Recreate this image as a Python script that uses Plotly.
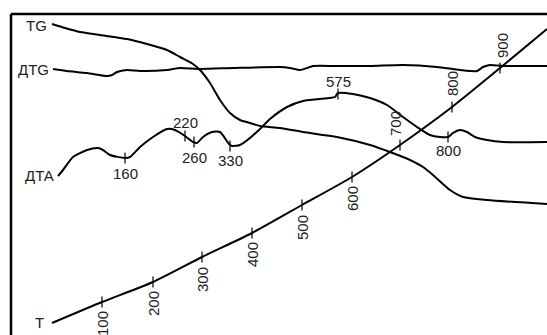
import plotly.graph_objects as go

# ---- data (pixel-like units: x to the right, y downward) ----
TG_x = [52, 65, 80, 100, 127, 147, 167, 180, 193, 200, 210, 220, 230, 240, 250, 260, 280, 303, 337, 370, 390, 410, 423, 433, 450, 463, 487, 547]
TG_y = [24, 28, 32, 35, 39, 44, 50, 57, 64, 70, 83, 100, 113, 120, 123, 126, 128, 132, 137, 145, 152, 160, 167, 175, 190, 197, 200, 204]

DTG_x = [53, 67, 87, 107, 112, 117, 127, 140, 167, 180, 200, 233, 280, 290, 300, 307, 313, 337, 370, 403, 437, 460, 477, 483, 490, 503, 547]
DTG_y = [69, 71, 73, 76, 75, 72, 70, 71, 70, 68, 69, 68, 67, 68, 70, 68, 66, 66, 66, 65, 67, 70, 71, 67, 65, 66, 66]

DTA_x = [58, 63, 73, 87, 98, 103, 110, 125, 130, 140, 153, 167, 175, 185, 193, 197, 203, 212, 220, 229, 232, 240, 250, 260, 270, 287, 303, 330, 335, 338, 353, 370, 387, 403, 417, 430, 440, 448, 453, 460, 467, 475, 487, 503, 547]
DTA_y = [176, 170, 157, 150, 148, 150, 155, 158, 157, 147, 137, 129, 130, 136, 142, 143, 137, 132, 132, 144, 146, 145, 138, 129, 119, 107, 101, 98, 97, 93, 94, 98, 105, 117, 127, 135, 137, 137, 133, 130, 132, 137, 140, 142, 142]

DTA_mark_x = [125, 185, 194, 230, 338, 448]
DTA_mark_y = [158, 136, 142, 146, 94, 137]
DTA_mark_labels = ["160", "220", "260", "330", "575", "800"]
DTA_label_shift = [-15, 14, -15, -14, 13, -13]

T_x = [52, 102, 153, 202, 252, 302, 352, 400, 452, 500, 547]
T_y = [323, 302, 282, 257, 233, 205, 177, 145, 107, 68, 29]
T_tick_labels = ["100", "200", "300", "400", "500", "600", "700", "800", "900"]
T_label_yshift = [-22, -22, -23, -22, -23, -22, 21, 23, 22]
T_label_xshift = [0, 0, 0, 0, 0, 0, -5, 0, 2]

curve_names = ["TG", "ДТG", "ДТА", "T"]
curve_name_x = [49, 51, 56, 46]
curve_name_y = [25, 69, 175, 322]

FONT = "Liberation Sans, Arial, sans-serif"
FSIZE = 15

fig = go.Figure()
line = dict(color="black", width=2, shape="spline", smoothing=0.6)
for xs, ys in [(TG_x, TG_y), (DTG_x, DTG_y), (DTA_x, DTA_y), (T_x, T_y)]:
    fig.add_trace(go.Scatter(x=xs, y=ys, mode="lines", line=line, hoverinfo="skip"))

# tick marks
fig.add_trace(go.Scatter(x=DTA_mark_x, y=DTA_mark_y, mode="markers",
                         marker=dict(symbol="line-ns", size=8, line=dict(color="black", width=1.2))))
fig.add_trace(go.Scatter(x=T_x[1:-1], y=T_y[1:-1], mode="markers",
                         marker=dict(symbol="line-ns", size=8, line=dict(color="black", width=1.2))))

ann = []
for x, y, t, s in zip(DTA_mark_x, DTA_mark_y, DTA_mark_labels, DTA_label_shift):
    ann.append(dict(x=x, y=y, text=t, showarrow=False, yshift=s, xanchor="center", yanchor="middle",
                    font=dict(size=FSIZE, color="#222", family=FONT)))
for x, y, t, ys, xs in zip(T_x[1:-1], T_y[1:-1], T_tick_labels, T_label_yshift, T_label_xshift):
    ann.append(dict(x=x, y=y, text=t, showarrow=False, yshift=ys, xshift=xs, textangle=-90,
                    xanchor="center", yanchor="middle", font=dict(size=FSIZE, color="#222", family=FONT)))
for x, y, t in zip(curve_name_x, curve_name_y, curve_names):
    ann.append(dict(x=x, y=y, text=t, showarrow=False, xanchor="right", yanchor="middle",
                    font=dict(size=FSIZE, color="#222", family=FONT)))

shapes = [
    dict(type="line", x0=11, x1=547, y0=14, y1=14, line=dict(color="black", width=2.5)),
    dict(type="line", x0=11, x1=11, y0=14, y1=335, line=dict(color="black", width=2.5)),
]

fig.update_layout(
    width=547, height=335, margin=dict(l=0, r=0, t=0, b=0),
    paper_bgcolor="white", plot_bgcolor="white", showlegend=False,
    xaxis=dict(range=[0, 547], visible=False, fixedrange=True),
    yaxis=dict(range=[335, 0], visible=False, fixedrange=True),
    annotations=ann, shapes=shapes,
)
fig.write_html("out.html", config={"displayModeBar": False},
               post_script="document.body.style.margin='0';document.body.style.overflow='hidden';")
